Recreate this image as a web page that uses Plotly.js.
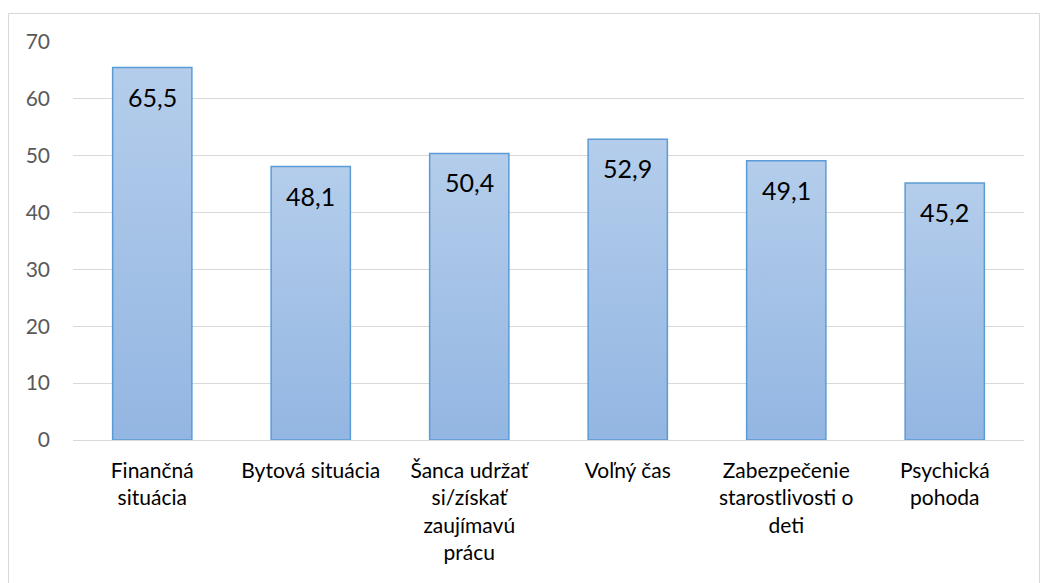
<!DOCTYPE html>
<html><head><meta charset="utf-8">
<script src="https://cdn.plot.ly/plotly-3.0.1.min.js"></script>
<style>body{margin:0;background:#fff}#chart{width:1041px;height:583px}</style>
</head><body><div id="chart"></div>
<script>
const categories = ["Finančná<br>situácia","Bytová situácia","Šanca udržať<br>si/získať<br>zaujímavú<br>prácu","Voľný čas","Zabezpečenie<br>starostlivosti o<br>deti","Psychická<br>pohoda"];
const values = [65.5, 48.1, 50.4, 52.9, 49.1, 45.2];
const yTicks = [0,10,20,30,40,50,60,70];

const fmt = v => v.toFixed(1).replace('.', ',');
const BAR_W = 0.5;
const idx = categories.map((c, i) => i);

// gradient fills, one per bar
const fills = values.map((v, i) => ({
  type: 'scatter', mode: 'none', xaxis: 'x', yaxis: 'y',
  x: [i - BAR_W/2, i + BAR_W/2, i + BAR_W/2, i - BAR_W/2, i - BAR_W/2],
  y: [0, 0, v, v, 0],
  fill: 'toself',
  fillgradient: {type: 'vertical', colorscale: [[0, '#93b6e2'], [1, '#b4cdeb']]},
  hoverinfo: 'none', showlegend: false
}));

// outlined bars on an overlaying axis so the outline sits above the fill
const bars = {
  type: 'bar', x: idx, y: values, xaxis: 'x2', yaxis: 'y',
  width: BAR_W,
  marker: {color: 'rgba(0,0,0,0)', line: {color: '#5b9bd5', width: 1.5}},
  hoverinfo: 'none'
};

const annotations = values.map((v, i) => ({
  x: i, y: v, xref: 'x', yref: 'y', text: fmt(v),
  showarrow: false, yanchor: 'top', yshift: -12,
  font: {family: 'Lato, sans-serif', size: 25, color: '#000'}
}));

const layout = {
  width: 1041, height: 583,
  margin: {l: 73, r: 17, t: 42, b: 143},
  paper_bgcolor: '#fff', plot_bgcolor: '#fff',
  showlegend: false,
  font: {family: 'Lato, sans-serif'},
  xaxis: {range: [-0.5, 5.5], tickvals: idx, ticktext: categories, showgrid: false, showline: false, ticks: '',
    tickfont: {size: 21, color: '#000'}, ticklabelstandoff: 16, zeroline: false, fixedrange: true},
  xaxis2: {overlaying: 'x', range: [-0.5, 5.5], visible: false, fixedrange: true},
  yaxis: {range: [0, 70], tickvals: yTicks, ticktext: yTicks.map(String),
    showgrid: true, gridcolor: '#d9d9d9', gridwidth: 1, zeroline: true, zerolinecolor: '#d9d9d9', zerolinewidth: 1,
    showline: false, ticks: '', tickfont: {size: 21, color: '#595959'}, ticklabelstandoff: 22},
  annotations: annotations,
  shapes: [{type: 'rect', xref: 'paper', yref: 'paper', x0: -0.0678, x1: 1.0163, y0: -0.4, y1: 1.0716,
    line: {color: '#d9d9d9', width: 1}, layer: 'below'}]
};

Plotly.newPlot('chart', [...fills, bars], layout, {displayModeBar: false, staticPlot: true});
</script></body></html>
